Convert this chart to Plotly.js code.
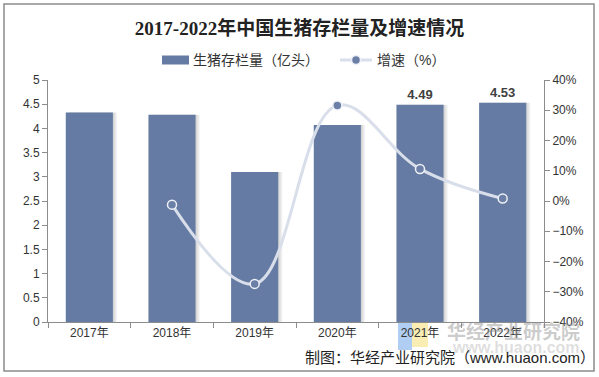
<!DOCTYPE html>
<html>
<head>
<meta charset="utf-8">
<script src="https://cdn.plot.ly/plotly-3.0.1.min.js"></script>
<style>html,body{margin:0;padding:0;background:#fff;}#chart{width:599px;height:377px;}</style>
</head>
<body>
<div id="chart"></div>
<script>
// Data
const years = ["2017年", "2018年", "2019年", "2020年", "2021年", "2022年"];
const stock = [4.33, 4.28, 3.10, 4.07, 4.49, 4.53];          // 生猪存栏量（亿头）
const growthYears = ["2018年", "2019年", "2020年", "2021年", "2022年"];
const growth = [-1.2, -27.4, 31.6, 10.6, 0.8];               // 增速（%）
const labelled = ["2021年", "2022年"];                         // bars with value labels
const seriesNames = ["生猪存栏量（亿头）", "增速（%）"];

const FONT = "Liberation Sans, Arial, Noto Sans CJK SC, sans-serif";
const barText = years.map((y, i) => labelled.includes(y) ? stock[i].toFixed(2) : "");

// plot area in pixels: x 48..544, y 80..322
const L = 48, R = 544, T = 80, B = 322;
const px = v => (v - L) / (R - L);
const py = v => (B - v) / (B - T);

const BW = 0.57;
const shadow = [1, 2, 3, 4].map(k => ({
  type: "bar", x: years, y: stock, width: BW, offset: -BW / 2 + k * 0.013,
  marker: {color: "rgba(0,0,0,0.045)"}, hoverinfo: "skip", showlegend: false
}));

const traces = shadow.concat([
  {
    type: "bar", name: seriesNames[0], x: years, y: stock, width: BW, offset: -BW / 2,
    marker: {color: "#667ba3"},
    text: barText, textposition: "outside", cliponaxis: false,
    textfont: {family: FONT, size: 13, color: "#404040", weight: "bold"}
  },
  {
    type: "scatter", mode: "lines+markers", name: seriesNames[1],
    x: growthYears, y: growth, yaxis: "y2",
    line: {shape: "spline", smoothing: 1.1, color: "#d9dfea", width: 3},
    marker: {symbol: "circle", size: 9, color: "#6b7fa7", line: {color: "#eef1f6", width: 1.5}}
  }
]);

const layout = {
  width: 599, height: 377,
  margin: {l: L, r: 599 - R, t: T, b: 377 - B, pad: 0},
  paper_bgcolor: "#fff", plot_bgcolor: "#fff",
  barmode: "overlay",
  font: {family: FONT, size: 12, color: "#333"},
  title: {
    text: "2017-2022年中国生猪存栏量及增速情况",
    font: {family: "Liberation Serif, Noto Sans CJK SC, serif", size: 19, color: "#222", weight: "bold"},
    x: 0.5, xanchor: "center", y: 1 - 28 / 377, yanchor: "middle"
  },
  showlegend: false,
  xaxis: {
    type: "category", showline: true, linecolor: "#8c8c8c", linewidth: 1,
    ticks: "outside", tickson: "boundaries", ticklen: 5, tickcolor: "#8c8c8c",
    tickfont: {family: FONT, size: 12, color: "#333"}, showgrid: false, zeroline: false
  },
  yaxis: {
    range: [0, 5], dtick: 0.5, showline: true, linecolor: "#8c8c8c", linewidth: 1,
    ticks: "outside", ticklen: 5, tickcolor: "#8c8c8c", showgrid: false, zeroline: false,
    tickfont: {family: FONT, size: 12, color: "#333"}
  },
  yaxis2: {
    overlaying: "y", side: "right", range: [-40, 40], dtick: 10, ticksuffix: "%",
    showline: true, linecolor: "#8c8c8c", linewidth: 1,
    ticks: "outside", ticklen: 5, tickcolor: "#8c8c8c", showgrid: false, zeroline: false,
    tickfont: {family: FONT, size: 12, color: "#333"}
  },
  shapes: [
    {type: "rect", xref: "paper", yref: "paper", x0: px(4), x1: px(594), y0: py(371), y1: py(4),
     line: {color: "#8c8c8c", width: 1.5}, fillcolor: "rgba(0,0,0,0)", layer: "above"},
    {type: "rect", xref: "paper", yref: "paper", x0: px(398), x1: px(412), y0: py(350), y1: py(322),
     line: {width: 0}, fillcolor: "rgba(150,190,240,0.75)", layer: "below"},
    {type: "rect", xref: "paper", yref: "paper", x0: px(412), x1: px(428), y0: py(347), y1: py(322),
     line: {width: 0}, fillcolor: "rgba(248,232,160,0.8)", layer: "below"},
    // legend swatches
    {type: "rect", xref: "paper", yref: "paper", x0: px(162), x1: px(189), y0: py(64.5), y1: py(55.5),
     line: {width: 0}, fillcolor: "#667ba3"},
    {type: "line", xref: "paper", yref: "paper", x0: px(340), x1: px(372), y0: py(60), y1: py(60),
     line: {color: "#d9dfea", width: 3}},
    {type: "circle", xref: "paper", yref: "paper", x0: px(351.5), x1: px(360.5), y0: py(64.5), y1: py(55.5),
     line: {color: "#eef1f6", width: 1.5}, fillcolor: "#6b7fa7"}
  ],
  annotations: [
    {xref: "paper", yref: "paper", x: px(191), y: py(60), xanchor: "left", yanchor: "middle",
     text: seriesNames[0], showarrow: false, font: {family: FONT, size: 14, color: "#333"}},
    {xref: "paper", yref: "paper", x: px(375), y: py(60), xanchor: "left", yanchor: "middle",
     text: seriesNames[1], showarrow: false, font: {family: FONT, size: 14, color: "#333"}},
    {xref: "paper", yref: "paper", x: px(513), y: py(330), xanchor: "center", yanchor: "middle",
     text: "华经产业研究院", showarrow: false,
     font: {family: "Noto Sans CJK SC, sans-serif", size: 19, color: "rgba(140,140,140,0.45)", weight: "bold"}},
    {xref: "paper", yref: "paper", x: px(516), y: py(347), xanchor: "center", yanchor: "middle",
     text: "www.huaon.com", showarrow: false,
     font: {family: FONT, size: 16, color: "rgba(160,160,160,0.35)", weight: "bold"}},
    {xref: "paper", yref: "paper", x: px(597), y: py(357), xanchor: "right", yanchor: "middle",
     text: "制图：华经产业研究院（www.huaon.com）", showarrow: false,
     font: {family: FONT, size: 15, color: "#222"}}
  ]
};

Plotly.newPlot("chart", traces, layout, {staticPlot: true, displayModeBar: false});
</script>
</body>
</html>
